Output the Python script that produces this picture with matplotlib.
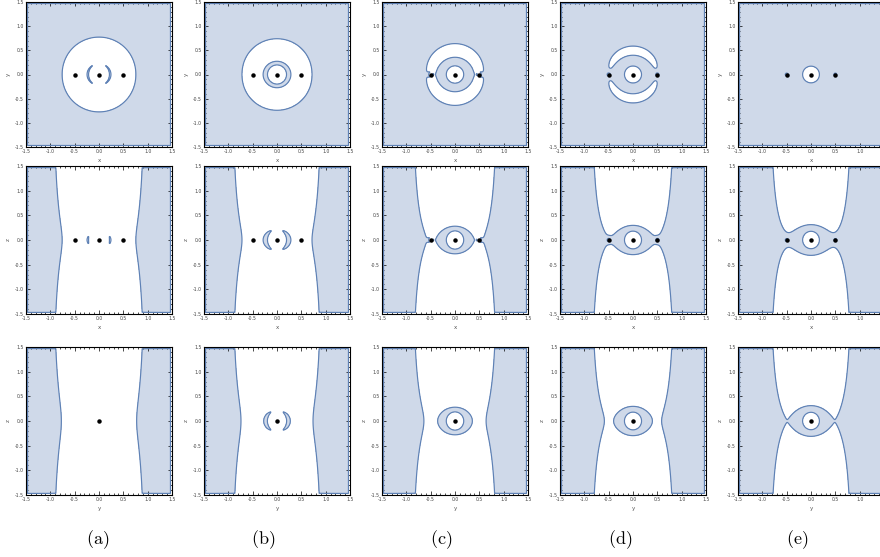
import numpy as np
import matplotlib.pyplot as plt
from matplotlib.ticker import MultipleLocator

plt.rcParams['mathtext.fontset'] = 'cm'

# bodies on the x axis
side_x = [-0.5, 0.5]
centre_x = [0.0]

# model of the plotted function (region: phi > level)
rot = 4.0          # rotation term on x^2 + y^2
core_a = 1.0       # central body strength
core_s = 0.00266   # central body core
side_b = 0.05      # side bodies, far part
side_eps = 0.25    # side bodies, softening of far part
side_g = 0.2       # side bodies, near bump height
side_w = 0.07      # side bodies, near bump width
side_t = 2e-7      # side bodies core

# one level per column (a)-(e)
levels = [3.785, 3.641, 3.30, 3.185, 3.086]
captions = ['(a)', '(b)', '(c)', '(d)', '(e)']
caption_x = [98, 263, 441, 620, 797]

# rows: plane shown, axis labels
planes = ['xy', 'xz', 'yz']
xlabels = ['x', 'x', 'y']
ylabels = ['y', 'z', 'z']

fill_col = '#CFD9E9'
line_col = '#5E81B5'


def phi(x, y, z):
    with np.errstate(divide='ignore', invalid='ignore'):
        r0 = np.sqrt(x**2 + y**2 + z**2)
        v = rot * (x**2 + y**2) + core_a * (1 / r0 - core_s / r0**4)
        for xm in side_x:
            r2 = (x - xm)**2 + y**2 + z**2
            v = (v + side_b / np.sqrt(r2 + side_eps**2)
                 + side_g * np.exp(-r2 / side_w**2) - side_t / r2**2)
    return v


g = np.linspace(-1.56, 1.56, 720)
U, V = np.meshgrid(g, g)
inside = (np.abs(U) < 1.465) & (np.abs(V) < 1.465)

fig = plt.figure(figsize=(8.8, 5.57), dpi=100)
W, H = 880, 557
col_left = [26, 204, 382, 560, 738]
row_top = [2, 166, 347]
row_h = [145, 148, 148]
pw = 146

for i, plane in enumerate(planes):
    if plane == 'xy':
        P = phi(U, V, 0.0)
        pts = side_x + centre_x
    elif plane == 'xz':
        P = phi(U, 0.0, V)
        pts = side_x + centre_x
    else:
        P = phi(0.0, U, V)
        pts = centre_x
    for j, lev in enumerate(levels):
        ax = fig.add_axes([col_left[j] / W, 1 - (row_top[i] + row_h[i]) / H,
                           pw / W, row_h[i] / H])
        f = np.where(inside, P - lev, -1.0)
        f = np.nan_to_num(f, nan=-1.0, neginf=-1.0, posinf=1.0)
        ax.contourf(U, V, f, levels=[0, 1e12], colors=[fill_col])
        ax.contour(U, V, f, levels=[0], colors=[line_col], linewidths=0.85)
        ax.plot(pts, [0] * len(pts), 'o', color='black', markersize=2.2, zorder=5)
        ax.set_xlim(-1.5, 1.5)
        ax.set_ylim(-1.5, 1.5)
        ticks = np.arange(-1.5, 1.51, 0.5)
        ax.set_xticks(ticks)
        ax.set_yticks(ticks)
        ax.set_xticklabels(['%.1f' % t for t in ticks])
        ax.set_yticklabels(['%.1f' % t for t in ticks])
        ax.xaxis.set_minor_locator(MultipleLocator(0.1))
        ax.yaxis.set_minor_locator(MultipleLocator(0.1))
        ax.tick_params(which='both', direction='in', top=True, right=True,
                       labelsize=3.3, labelcolor='#444444', width=0.5, pad=1.5)
        ax.tick_params(which='major', length=3)
        ax.tick_params(which='minor', length=1.5)
        for sp in ax.spines.values():
            sp.set_linewidth(0.8)
        ax.set_xlabel(xlabels[i], fontsize=4, color='#555555', labelpad=3)
        ax.set_ylabel(ylabels[i], fontsize=4, color='#555555', labelpad=3)

for j, cap in enumerate(captions):
    fig.text(caption_x[j] / W, 1 - 540 / H, r'$\mathrm{%s}$' % cap,
             ha='center', va='center', fontsize=13)

fig.savefig('out.png', dpi=100)
